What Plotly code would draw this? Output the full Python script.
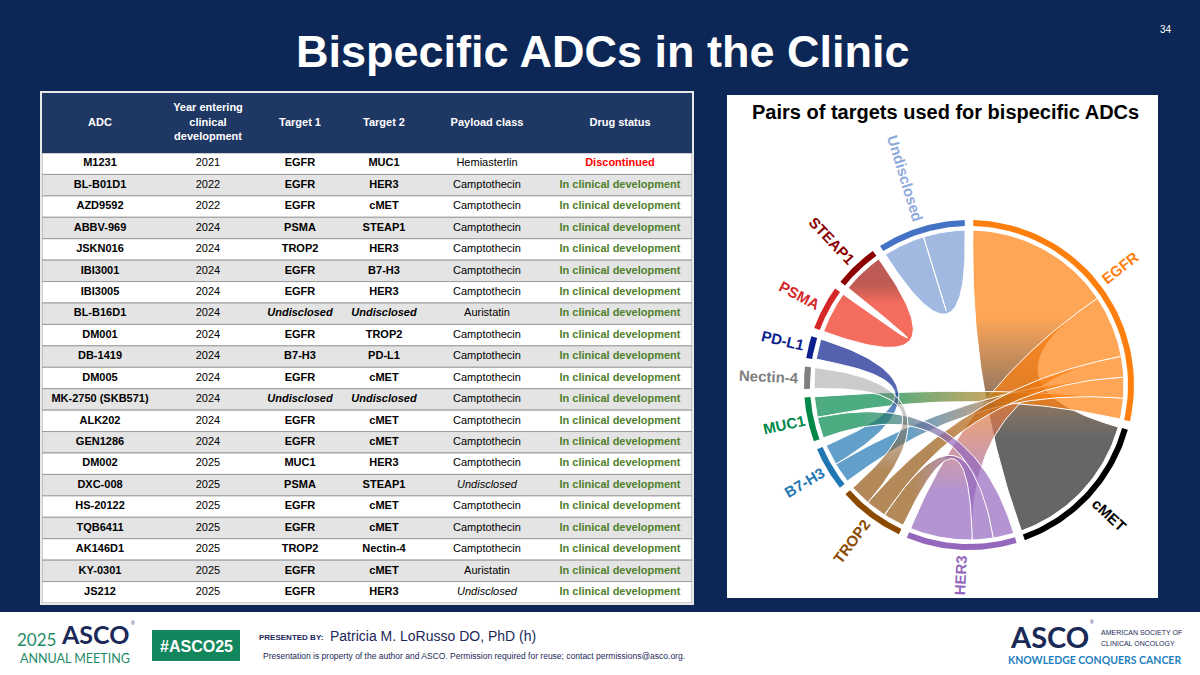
import numpy as np
import plotly.graph_objects as go
from collections import Counter

FONT = "Liberation Sans, Arial, sans-serif"
NARROW = "Liberation Sans Narrow, Liberation Sans, Arial, sans-serif"
NAVY_BG = "#0C2756"

# ---- table data ----
adc = ["M1231", "BL-B01D1", "AZD9592", "ABBV-969", "JSKN016", "IBI3001", "IBI3005",
       "BL-B16D1", "DM001", "DB-1419", "DM005", "MK-2750 (SKB571)", "ALK202", "GEN1286",
       "DM002", "DXC-008", "HS-20122", "TQB6411", "AK146D1", "KY-0301", "JS212"]
year = [2021, 2022, 2022, 2024, 2024, 2024, 2024, 2024, 2024, 2024, 2024, 2024, 2024, 2024,
        2025, 2025, 2025, 2025, 2025, 2025, 2025]
target1 = ["EGFR", "EGFR", "EGFR", "PSMA", "TROP2", "EGFR", "EGFR", "Undisclosed", "EGFR",
           "B7-H3", "EGFR", "Undisclosed", "EGFR", "EGFR", "MUC1", "PSMA", "EGFR", "EGFR",
           "TROP2", "EGFR", "EGFR"]
target2 = ["MUC1", "HER3", "cMET", "STEAP1", "HER3", "B7-H3", "HER3", "Undisclosed", "TROP2",
           "PD-L1", "cMET", "Undisclosed", "cMET", "cMET", "HER3", "STEAP1", "cMET", "cMET",
           "Nectin-4", "cMET", "HER3"]
payload = ["Hemiasterlin", "Camptothecin", "Camptothecin", "Camptothecin", "Camptothecin",
           "Camptothecin", "Camptothecin", "Auristatin", "Camptothecin", "Camptothecin",
           "Camptothecin", "Camptothecin", "Camptothecin", "Camptothecin", "Camptothecin",
           "Undisclosed", "Camptothecin", "Camptothecin", "Camptothecin", "Auristatin",
           "Undisclosed"]
status = ["Discontinued"] + ["In clinical development"] * 20

headers = ["ADC", "Year entering<br>clinical<br>development", "Target 1", "Target 2",
           "Payload class", "Drug status"]

# ---- chord diagram setup ----
sectors = ["EGFR", "cMET", "HER3", "TROP2", "B7-H3", "MUC1", "Nectin-4", "PD-L1",
           "PSMA", "STEAP1", "Undisclosed"]
track_colors = {"EGFR": "#FF7F0E", "cMET": "#000000", "HER3": "#9467BD", "TROP2": "#8C4A00",
                "B7-H3": "#1F77B4", "MUC1": "#00884A", "Nectin-4": "#7F7F7F",
                "PD-L1": "#0B1E8E", "PSMA": "#D62728", "STEAP1": "#8B0000",
                "Undisclosed": "#4472C4"}
label_colors = dict(track_colors, Undisclosed="#8FAADC")
link_colors = {"EGFR": "rgba(255,127,14,0.7)", "cMET": "rgba(0,0,0,0.6)",
               "HER3": "rgba(148,103,189,0.7)", "TROP2": "rgba(140,74,0,0.65)",
               "B7-H3": "rgba(31,119,180,0.7)", "MUC1": "rgba(0,136,74,0.7)",
               "Nectin-4": "rgba(127,127,127,0.4)", "PD-L1": "rgba(11,30,142,0.7)",
               "PSMA": "rgba(240,60,40,0.75)", "STEAP1": "rgba(160,20,10,0.7)",
               "Undisclosed": "rgba(68,114,196,0.5)"}
# order of link ends inside each sector (clockwise)
slot_order = {"EGFR": ["cMET", "HER3", "TROP2", "B7-H3", "MUC1"],
              "HER3": ["MUC1", "TROP2", "EGFR"],
              "TROP2": ["HER3", "EGFR", "Nectin-4"],
              "B7-H3": ["EGFR", "PD-L1"],
              "MUC1": ["HER3", "EGFR"]}

GAP = 3.0
R_LINK = 155
R_IN, R_OUT = 159, 165
R_LAB = 170

pairs = list(Counter(zip(target1, target2)).items())
ends = {s: [] for s in sectors}
for k, ((a, b), w) in enumerate(pairs):
    ends[a].append((b, w, k, 0))
    ends[b].append((a, w, k, 1))
totals = {s: sum(e[1] for e in ends[s]) for s in sectors}
unit = (360 - GAP * len(sectors)) / sum(totals.values())

span, end_span = {}, {}
pos = GAP / 2
for s in sectors:
    span[s] = (pos, pos + totals[s] * unit)
    order = slot_order.get(s, [])
    t = pos
    for partner, w, k, side in sorted(ends[s], key=lambda e: (order.index(e[0]) if e[0] in order else 0, e[3])):
        end_span[(k, side)] = (t, t + w * unit)
        t += w * unit
    pos = span[s][1] + GAP


def polar(r, deg):
    t = np.radians(deg)
    return r * np.sin(t), r * np.cos(t)


def arc(r, t0, t1, n=40):
    return polar(r, np.linspace(t0, t1, n))


def curve(t0, t1, r, n=60):
    x0, y0 = polar(r, t0)
    x1, y1 = polar(r, t1)
    s = np.linspace(0, 1, n)
    return (1 - s) ** 2 * x0 + s ** 2 * x1, (1 - s) ** 2 * y0 + s ** 2 * y1


def est_width(txt, size):
    w = 0
    for ch in txt:
        if ch in "iljtfrI1-":
            w += 0.33
        elif ch.isupper():
            w += 0.72
        elif ch.isdigit():
            w += 0.556
        else:
            w += 0.6
    return w * size


fig = go.Figure()

# ---- links ----
for k, ((a, b), w) in sorted(enumerate(pairs), key=lambda p: -p[1][1]):
    a0, a1 = end_span[(k, 0)]
    b0, b1 = end_span[(k, 1)]
    parts = [arc(R_LINK, a0, a1), curve(a1, b0, R_LINK), arc(R_LINK, b0, b1), curve(b1, a0, R_LINK)]
    xs = np.concatenate([p[0] for p in parts])
    ys = np.concatenate([p[1] for p in parts])
    ps = polar(R_LINK, (a0 + a1) / 2)
    pt = polar(R_LINK, (b0 + b1) / 2)
    i = 0 if abs(pt[0] - ps[0]) >= abs(pt[1] - ps[1]) else 1
    typ = "horizontal" if i == 0 else "vertical"
    if ps[i] <= pt[i]:
        c_lo, c_hi, lo, hi = link_colors[a], link_colors[b], ps[i], pt[i]
    else:
        c_lo, c_hi, lo, hi = link_colors[b], link_colors[a], pt[i], ps[i]
    if abs(hi - lo) < 1:
        hi = lo + 1
    cs = [[0, c_lo], [0.22, c_lo], [0.72, c_hi], [1, c_hi]]
    fig.add_trace(go.Scatter(x=xs, y=ys, mode="lines", fill="toself",
                             fillgradient=dict(type=typ, colorscale=cs, start=lo, stop=hi),
                             line=dict(color="white", width=1), hoverinfo="skip",
                             showlegend=False))

# ---- sector tracks and labels ----
for s in sectors:
    s0, s1 = span[s]
    xo, yo = arc(R_OUT, s0, s1)
    xi, yi = arc(R_IN, s1, s0)
    fig.add_trace(go.Scatter(x=np.concatenate([xo, xi]), y=np.concatenate([yo, yi]),
                             mode="lines", fill="toself", fillcolor=track_colors[s],
                             line=dict(width=0, color=track_colors[s]), hoverinfo="skip",
                             showlegend=False))
    mid = (s0 + s1) / 2
    rl = R_LAB + est_width(s, 15) / 2
    lx, ly = polar(rl, mid)
    ang = mid - 90 if mid < 180 else mid - 270
    fig.add_annotation(x=lx, y=ly, xref="x", yref="y", text="<b>" + s + "</b>",
                       showarrow=False, textangle=ang, xanchor="center", yanchor="middle",
                       font=dict(family=FONT, size=15, color=label_colors[s]))

# ---- table ----
n = len(adc)
col_w = [116, 100, 84, 84, 122, 144]
col_x = list(np.cumsum(col_w) - np.array(col_w) / 2)
rows = list(range(n))
HEAD_Y, HEAD_H = -1.9, 2.8

fig.add_trace(go.Bar(orientation="h", x=[sum(col_w)] * n, y=rows, base=0, width=1,
                     marker=dict(color=["#FFFFFF" if r % 2 == 0 else "#E4E4E4" for r in rows],
                                 line=dict(color="#9C9C9C", width=1)),
                     xaxis="x2", yaxis="y2", hoverinfo="skip", showlegend=False))
fig.add_trace(go.Bar(orientation="h", x=[sum(col_w)], y=[HEAD_Y], base=0, width=HEAD_H,
                     marker=dict(color="#1F3763", line=dict(width=0)),
                     xaxis="x2", yaxis="y2", hoverinfo="skip", showlegend=False))

fig.add_trace(go.Scatter(x=col_x, y=[HEAD_Y] * len(headers), mode="text",
                         text=["<br>".join("<b>" + p + "</b>" for p in h.split("<br>")) for h in headers],
                         textfont=dict(family=FONT, size=11, color="white"),
                         xaxis="x2", yaxis="y2", hoverinfo="skip", showlegend=False))


def tgt(t):
    return "<b><i>Undisclosed</i></b>" if t == "Undisclosed" else "<b>" + t + "</b>"


columns = [
    (["<b>" + a + "</b>" for a in adc], ["black"] * n),
    ([str(y) for y in year], ["black"] * n),
    ([tgt(t) for t in target1], ["black"] * n),
    ([tgt(t) for t in target2], ["black"] * n),
    (["<i>Undisclosed</i>" if p == "Undisclosed" else p for p in payload], ["black"] * n),
    (["<b>" + s + "</b>" for s in status],
     ["#FF0000" if s == "Discontinued" else "#4F7F2C" for s in status]),
]
for j, (txt, col) in enumerate(columns):
    fig.add_trace(go.Scatter(x=[col_x[j]] * n, y=rows, mode="text", text=txt,
                             textfont=dict(family=FONT, size=11, color=col),
                             xaxis="x2", yaxis="y2", hoverinfo="skip", showlegend=False))

# ---- layout ----
W, H = 1200, 675


def px(x):
    return x / W


def py(y):
    return 1 - y / H


fig.update_layout(
    width=W, height=H, margin=dict(l=0, r=0, t=0, b=0),
    paper_bgcolor=NAVY_BG, plot_bgcolor="white", barmode="overlay",
    showlegend=False, font=dict(family=FONT),
    xaxis=dict(domain=[px(727), px(1158)], range=[727 - 969, 1158 - 969], visible=False,
               fixedrange=True, anchor="y"),
    yaxis=dict(domain=[py(598), py(95)], range=[385 - 598, 385 - 95], visible=False,
               fixedrange=True, anchor="x"),
    xaxis2=dict(domain=[px(42), px(692)], range=[0, sum(col_w)], visible=False,
                fixedrange=True, anchor="y2"),
    yaxis2=dict(domain=[py(603), py(93)], range=[n - 0.5, HEAD_Y - HEAD_H / 2], visible=False,
                fixedrange=True, anchor="x2"),
)

shapes = [
    dict(type="rect", xref="paper", yref="paper", x0=px(40), x1=px(694), y0=py(605), y1=py(91),
         fillcolor="#E8E8E8", line=dict(width=0), layer="below"),
    dict(type="rect", xref="paper", yref="paper", x0=0, x1=1, y0=0, y1=py(612),
         fillcolor="white", line=dict(width=0), layer="below"),
    dict(type="rect", xref="paper", yref="paper", x0=px(152), x1=px(240), y0=py(661), y1=py(630),
         fillcolor="#12875E", line=dict(width=0), layer="below"),
]
fig.update_layout(shapes=shapes)

notes = [
    dict(x=px(602), y=py(51), text="<b>Bispecific ADCs in the Clinic</b>", size=45, color="white"),
    dict(x=px(1166), y=py(30), text="34", size=10, color="white"),
    dict(x=px(945), y=py(112), text="<b>Pairs of targets used for bispecific ADCs</b>", size=20,
         color="black"),
    dict(x=px(36), y=py(639), text="2025", size=17, color="#1E8B66", family="Lato"),
    dict(x=px(95), y=py(634), text="<b>ASCO</b>", size=25, color="#1B2858", family="Lato"),
    dict(x=px(133), y=py(623), text="®", size=5, color="#1B2858"),
    dict(x=px(75), y=py(658), text="ANNUAL MEETING", size=12.5, color="#1E8B66", family="Lato"),
    dict(x=px(196), y=py(646), text="<b>#ASCO25</b>", size=16, color="white"),
    dict(x=px(291), y=py(637), text="<b>PRESENTED BY:</b>", size=8, color="#1B2858"),
    dict(x=px(328), y=py(636), text="Patricia M. LoRusso DO, PhD (h)", size=14, color="#1B2858",
         family=NARROW, xanchor="left"),
    dict(x=px(261), y=py(656),
         text="Presentation is property of the author and ASCO. Permission required for reuse; contact permissions@asco.org.",
         size=8.5, color="#1B2858", family=NARROW, xanchor="left"),
    dict(x=px(1049), y=py(636), text="<b>ASCO</b>", size=29, color="#1A2A57", family="Lato"),
    dict(x=px(1092), y=py(622), text="®", size=5, color="#1A2A57"),
    dict(x=px(1099), y=py(632), text="AMERICAN SOCIETY OF", size=7, color="#1A2A57",
         xanchor="left"),
    dict(x=px(1099), y=py(643), text="CLINICAL ONCOLOGY", size=7, color="#1A2A57",
         xanchor="left"),
    dict(x=px(1094), y=py(660), text="<b>KNOWLEDGE CONQUERS CANCER</b>", size=10.5,
         color="#1F7FC0", family="Lato"),
]
for a in notes:
    fig.add_annotation(x=a["x"], y=a["y"], xref="paper", yref="paper", text=a["text"],
                       showarrow=False, xanchor=a.get("xanchor", "center"), yanchor="middle",
                       font=dict(family=a.get("family", FONT), size=a["size"], color=a["color"]))

fig.write_html("out.html", config={"displayModeBar": False},
               post_script="document.body.style.margin='0';")
